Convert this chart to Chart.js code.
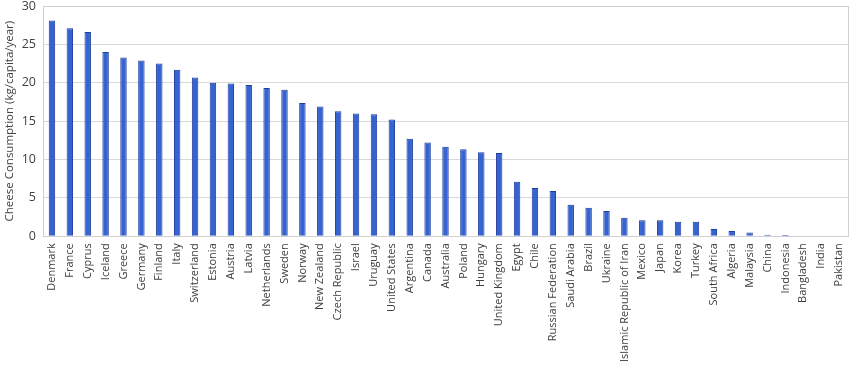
<!DOCTYPE html>
<html>
<head>
<meta charset="utf-8">
<script src="https://cdn.jsdelivr.net/npm/chart.js@4/dist/chart.umd.min.js"></script>
<style>
  html, body { margin: 0; padding: 0; background: #fff; }
  #wrap { width: 850px; height: 372px; position: relative; }
</style>
</head>
<body>
<div id="wrap"><canvas id="cheese-chart"></canvas></div>
<script>
const countries = [
    'Denmark', 'France', 'Cyprus', 'Iceland', 'Greece', 'Germany', 'Finland', 'Italy',
    'Switzerland', 'Estonia', 'Austria', 'Latvia', 'Netherlands', 'Sweden', 'Norway',
    'New Zealand', 'Czech Republic', 'Israel', 'Uruguay', 'United States', 'Argentina',
    'Canada', 'Australia', 'Poland', 'Hungary', 'United Kingdom', 'Egypt', 'Chile',
    'Russian Federation', 'Saudi Arabia', 'Brazil', 'Ukraine', 'Islamic Republic of Iran',
    'Mexico', 'Japan', 'Korea', 'Turkey', 'South Africa', 'Algeria', 'Malaysia', 'China',
    'Indonesia', 'Bangladesh', 'India', 'Pakistan'
];
const consumption = [
    28.1, 27.1, 26.6, 24.0, 23.3, 22.9, 22.5, 21.7,
    20.7, 20.0, 19.9, 19.7, 19.3, 19.1, 17.35,
    16.9, 16.3, 16.0, 15.9, 15.2, 12.7,
    12.2, 11.65, 11.35, 10.95, 10.85, 7.1, 6.3,
    5.9, 4.1, 3.7, 3.3, 2.4,
    2.1, 2.1, 1.9, 1.9, 0.95, 0.7, 0.5, 0.2,
    0.15, 0, 0, 0
];
const yTicks = [0, 5, 10, 15, 20, 25, 30];
const yTitle = 'Cheese Consumption (kg/capita/year)';

// frame around the plot area (top and right edges)
const plotFrame = {
    id: 'plotFrame',
    afterDraw(chart) {
        const { ctx, chartArea } = chart;
        ctx.save();
        ctx.strokeStyle = '#d0d0d0';
        ctx.lineWidth = 1;
        ctx.strokeRect(Math.round(chartArea.left) + 0.5, Math.round(chartArea.top) + 0.5,
            Math.round(chartArea.right - chartArea.left), Math.round(chartArea.bottom - chartArea.top));
        ctx.restore();
    }
};

const ctx = document.getElementById('cheese-chart').getContext('2d');

new Chart(ctx, {
    type: 'bar',
    data: {
        labels: countries,
        datasets: [
            {
                label: yTitle,
                data: consumption,
                backgroundColor: '#3563d2',
                borderColor: '#1d3c9c',
                borderWidth: 1,
                categoryPercentage: 1,
                barPercentage: 0.36,
            },
        ],
    },
    options: {
        responsive: true,
        maintainAspectRatio: false,
        animation: false,
        layout: { padding: { left: 3, right: 2, top: 6, bottom: 3 } },
        plugins: {
            legend: { display: false },
            tooltip: { enabled: false },
        },
        scales: {
            x: {
                afterFit: axis => {
                    axis.paddingLeft = 0;
                    axis.paddingRight = 0;
                },
                grid: { display: false, drawTicks: false },
                border: { color: '#d0d0d0' },
                ticks: {
                    color: '#404040',
                    font: { family: 'Open Sans', size: 11 },
                    minRotation: 90,
                    maxRotation: 90,
                    autoSkip: false,
                    padding: 7,
                },
            },
            y: {
                min: 0,
                max: 30,
                afterBuildTicks: axis => { axis.ticks = yTicks.map(v => ({ value: v })); },
                afterFit: axis => {
                    axis.width = 40;
                    axis.paddingTop = 0;
                    axis.paddingBottom = 0;
                },
                grid: { color: '#d9d9d9', drawTicks: false },
                border: { color: '#d0d0d0' },
                ticks: {
                    color: '#404040',
                    font: { family: 'Open Sans', size: 12.5 },
                    padding: 7,
                },
                title: {
                    display: true,
                    text: yTitle,
                    color: '#404040',
                    font: { family: 'Open Sans', size: 11.5 },
                    padding: 0,
                },
            },
        },
    },
    plugins: [plotFrame],
});
</script>
</body>
</html>
